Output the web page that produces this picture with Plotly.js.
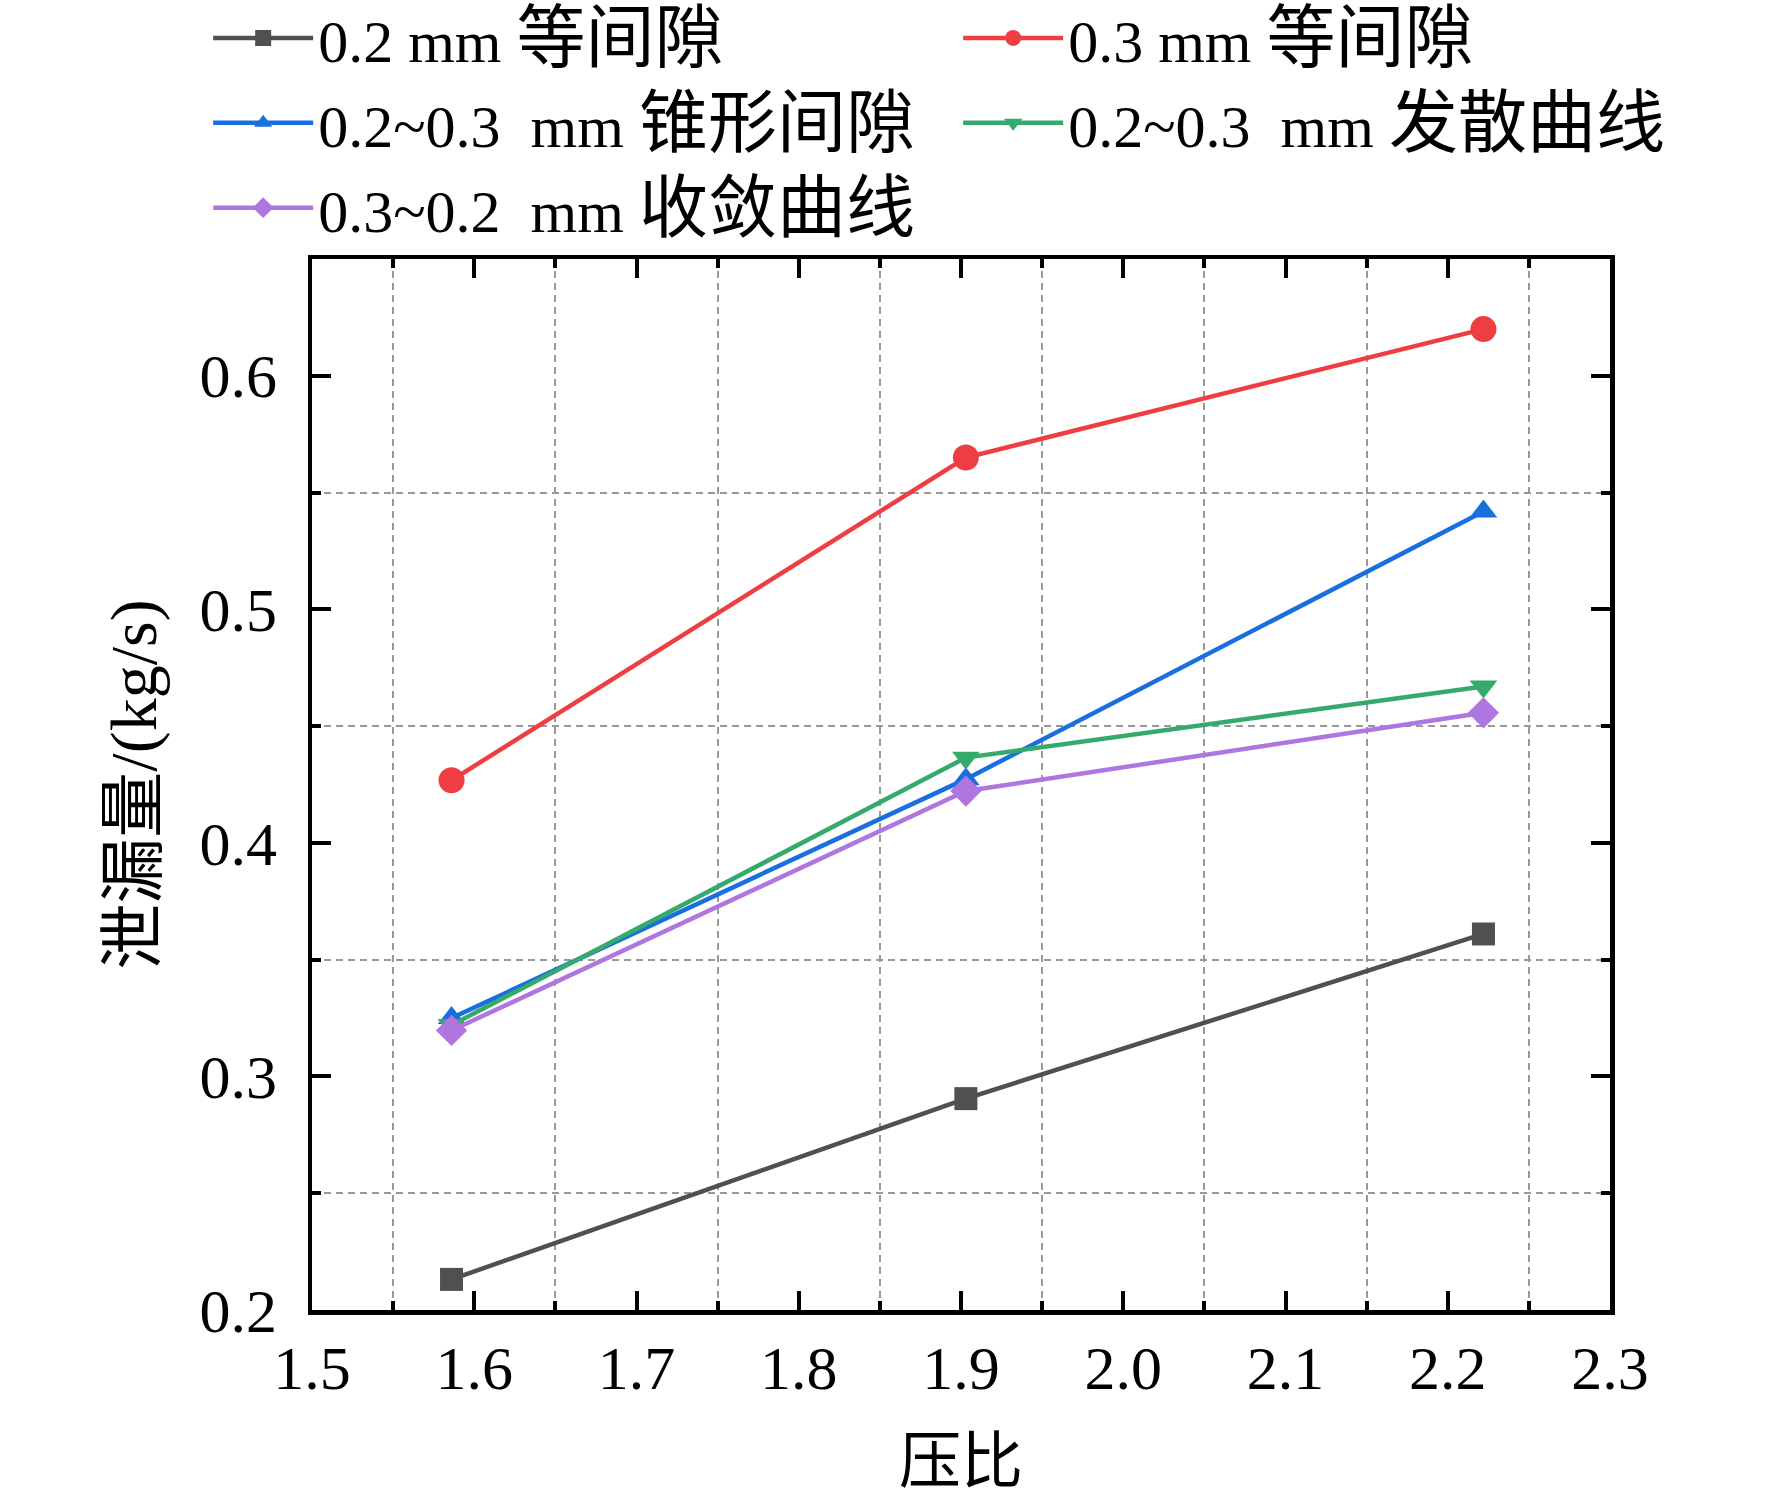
<!DOCTYPE html>
<html>
<head>
<meta charset="utf-8">
<script src="https://cdn.plot.ly/plotly-3.0.1.min.js"></script>
<style>html,body{margin:0;padding:0;background:#fff;}#chart{width:1772px;height:1507px;}</style>
</head>
<body>
<div id="chart"></div>
<script>
// Data
const pressureRatio = [1.586, 1.903, 2.222];
const gap02 = [0.2131, 0.2905, 0.3610];
const gap03 = [0.4268, 0.5650, 0.6200];
const taperGap = [0.3250, 0.4273, 0.5419];
const divergeCurve = [0.3220, 0.4365, 0.4670];
const convergeCurve = [0.3197, 0.4222, 0.4557];

const seriesLatin = ['0.2 mm ', '0.3 mm ', '0.2~0.3&nbsp; mm ', '0.2~0.3&nbsp; mm ', '0.3~0.2&nbsp; mm '];
const seriesCJK = ['等间隙', '等间隙', '锥形间隙', '发散曲线', '收敛曲线'];
const seriesValues = [gap02, gap03, taperGap, divergeCurve, convergeCurve];
const seriesColors = ['#505050', '#ef3e42', '#1a6fdf', '#35aa6c', '#b076df'];
const seriesSymbols = ['square', 'circle', 'triangle-up', 'triangle-down', 'diamond'];
const seriesMarkerSize = [23, 26, 24, 24, 24];

const xTitle = '压比';
const yTitle = '泄漏量/(kg/s)';

const FONT = '"Liberation Serif", "Times New Roman", "Noto Sans CJK SC", serif';

const traces = seriesLatin.map((latin, i) => ({
  x: pressureRatio,
  y: seriesValues[i],
  name: '<span style="font-size:60px">' + latin + '</span><span style="font-size:69px">' + seriesCJK[i] + '</span>',
  type: 'scatter',
  mode: 'lines+markers',
  line: {color: seriesColors[i], width: 4.5},
  marker: {color: seriesColors[i], symbol: seriesSymbols[i], size: seriesMarkerSize[i]}
}));

const axisCommon = {
  showline: true,
  linecolor: 'black',
  linewidth: 4.5,
  mirror: 'ticks',
  ticks: 'inside',
  ticklen: 19,
  tickwidth: 4,
  tickcolor: 'black',
  showgrid: false,
  zeroline: false,
  tickfont: {family: FONT, size: 62, color: 'black'}
};

const minorCommon = {
  ticks: 'inside', ticklen: 9, tickwidth: 4, tickcolor: 'black',
  showgrid: true, gridcolor: '#999999', gridwidth: 2, griddash: '7px,5px'
};

const layout = {
  width: 1772,
  height: 1507,
  paper_bgcolor: 'white',
  plot_bgcolor: 'white',
  margin: {l: 312, r: 162, t: 259, b: 197, autoexpand: false},
  font: {family: FONT, color: 'black'},
  showlegend: true,
  legend: {
    orientation: 'h',
    x: -0.08,
    xanchor: 'left',
    y: 1.2555,
    yanchor: 'top',
    entrywidth: 635,
    entrywidthmode: 'pixels',
    itemwidth: 100,
    font: {family: FONT, size: 63, color: 'black'},
    bgcolor: 'rgba(0,0,0,0)',
    borderwidth: 0,
    traceorder: 'normal'
  },
  xaxis: Object.assign({}, axisCommon, {
    range: [1.5, 2.3],
    tick0: 1.5,
    dtick: 0.1,
    tickformat: '.1f',
    ticklabelstandoff: 0,
    minor: Object.assign({tick0: 1.5, dtick: 0.05}, minorCommon),
    title: {text: xTitle, font: {family: FONT, size: 62, color: 'black'}, standoff: 40}
  }),
  yaxis: Object.assign({}, axisCommon, {
    range: [0.2, 0.65],
    tick0: 0.2,
    dtick: 0.1,
    tickformat: '.1f',
    ticklabelstandoff: 18,
    minor: Object.assign({tick0: 0.2, dtick: 0.05}, minorCommon),
    title: {text: yTitle, font: {family: FONT, size: 66, color: 'black'}, standoff: 23}
  })
};

Plotly.newPlot('chart', traces, layout, {staticPlot: true, displayModeBar: false});
</script>
</body>
</html>
